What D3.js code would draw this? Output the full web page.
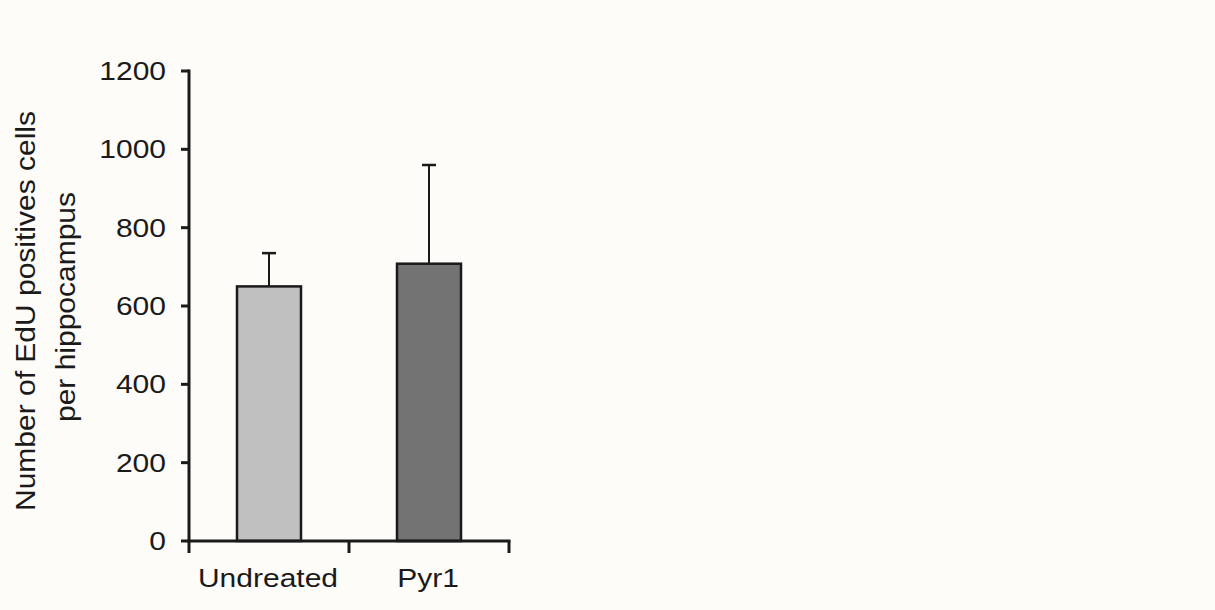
<!DOCTYPE html>
<html>
<head>
<meta charset="utf-8">
<script src="https://cdn.jsdelivr.net/npm/d3@7"></script>
<style>
  html, body { margin: 0; padding: 0; background: #fdfcf8; }
  svg { display: block; }
  text { font-family: "Liberation Sans", Arial, sans-serif; fill: #1a1a1a; }
</style>
</head>
<body>
<script>
const categories = ["Undreated", "Pyr1"];
const means = [650, 708];
const errors = [85, 252];
const yTicks = [0, 200, 400, 600, 800, 1000, 1200];
const barFills = ["#c0c0c0", "#737373"];
const yTitle = ["Number of EdU positives cells", "per hippocampus"];

const W = 1215, H = 610;
const svg = d3.select("body").append("svg").attr("width", W).attr("height", H);
svg.append("rect").attr("width", W).attr("height", H).attr("fill", "#fdfcf8");

const y = d3.scaleLinear().domain([0, 1200]).range([541, 71]);
const x = d3.scaleBand().domain(categories).range([189, 509]).padding(0);
const bw = x.bandwidth();
const ink = "#1a1a1a";

// bars
const g = svg.append("g");
categories.forEach((c, i) => {
  const cx = x(c) + bw / 2;
  g.append("line")
    .attr("x1", cx).attr("x2", cx)
    .attr("y1", y(means[i])).attr("y2", y(means[i] + errors[i]))
    .attr("stroke", ink).attr("stroke-width", 2);
  g.append("line")
    .attr("x1", cx - 7).attr("x2", cx + 7)
    .attr("y1", y(means[i] + errors[i])).attr("y2", y(means[i] + errors[i]))
    .attr("stroke", ink).attr("stroke-width", 2.5);
  g.append("rect")
    .attr("x", x(c) + bw * 0.3)
    .attr("width", bw * 0.4)
    .attr("y", y(means[i]))
    .attr("height", y(0) - y(means[i]))
    .attr("fill", barFills[i])
    .attr("stroke", ink).attr("stroke-width", 2.5);
});

// y axis
const yAxis = svg.append("g");
yAxis.append("line")
  .attr("x1", x.range()[0]).attr("x2", x.range()[0])
  .attr("y1", y(1200) - 1.5).attr("y2", y(0) + 1.5)
  .attr("stroke", ink).attr("stroke-width", 3);
yTicks.forEach(t => {
  yAxis.append("line")
    .attr("x1", x.range()[0] - 8).attr("x2", x.range()[0])
    .attr("y1", y(t)).attr("y2", y(t))
    .attr("stroke", ink).attr("stroke-width", 3);
  yAxis.append("text")
    .attr("transform", `translate(166,${y(t) + 9}) scale(1.2,1)`)
    .attr("text-anchor", "end")
    .attr("font-size", 25)
    .text(t);
});

// x axis
const xAxis = svg.append("g");
xAxis.append("line")
  .attr("x1", x.range()[0] - 1.5).attr("x2", x.range()[1] + 1.5)
  .attr("y1", y(0)).attr("y2", y(0))
  .attr("stroke", ink).attr("stroke-width", 3);
const edges = categories.map(c => x(c)).concat([x(categories[categories.length - 1]) + bw]);
edges.forEach(e => {
  xAxis.append("line")
    .attr("x1", e).attr("x2", e)
    .attr("y1", y(0)).attr("y2", y(0) + 12)
    .attr("stroke", ink).attr("stroke-width", 3);
});
categories.forEach(c => {
  xAxis.append("text")
    .attr("transform", `translate(${x(c) + bw / 2 - 1},587) scale(1.2,1)`)
    .attr("text-anchor", "middle")
    .attr("font-size", 25)
    .text(c);
});

// y title
const titleY = [311, 307];
yTitle.forEach((line, i) => {
  svg.append("text")
    .attr("transform", `translate(${35 + i * 40},${titleY[i]}) scale(0.95,1) rotate(-90)`)
    .attr("text-anchor", "middle")
    .attr("font-size", 30)
    .text(line);
});
</script>
</body>
</html>
